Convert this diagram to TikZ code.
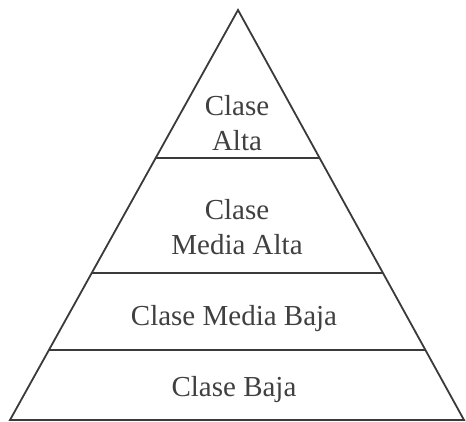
\documentclass[tikz,border=0pt]{standalone}
\usepackage{fontspec}
\setmainfont{Liberation Serif}
\usetikzlibrary{calc}
\definecolor{inkline}{HTML}{3A3A3A}
\definecolor{inktext}{HTML}{404040}
\begin{document}
\begin{tikzpicture}[x=1pt,y=1pt,
  edge/.style={draw=inkline,line width=1.8pt,line join=miter},
  divider/.style={draw=inkline,line width=1.8pt},
  label/.style={text=inktext,font=\fontsize{29}{35}\selectfont,inner sep=0pt,align=center}]
\fill[white] (0,0) rectangle (466,422);
\useasboundingbox (0,0) rectangle (466,422);
\coordinate (apex) at (238,412);
\coordinate (bl) at (10,2);
\coordinate (br) at (464,2);
% divider end points
\coordinate (l1) at ($(apex)!0.361!(bl)$);
\coordinate (r1) at ($(apex)!0.361!(br)$);
\coordinate (l2) at ($(apex)!0.6415!(bl)$);
\coordinate (r2) at ($(apex)!0.6415!(br)$);
\coordinate (l3) at ($(apex)!0.8293!(bl)$);
\coordinate (r3) at ($(apex)!0.8293!(br)$);
\draw[edge] (apex) -- (bl) -- (br) -- cycle;
\draw[divider] (l1) -- (r1);
\draw[divider] (l2) -- (r2);
\draw[divider] (l3) -- (r3);
\node[label] (alta) at (237,299) {Clase\\Alta};
\node[label] (mediaalta) at (237,194.5) {Clase\\Media Alta};
\node[label,anchor=base] (mediabaja) at (234,96) {Clase Media Baja};
\node[label,anchor=base] (baja) at (234,25) {Clase Baja};
\end{tikzpicture}
\end{document}
